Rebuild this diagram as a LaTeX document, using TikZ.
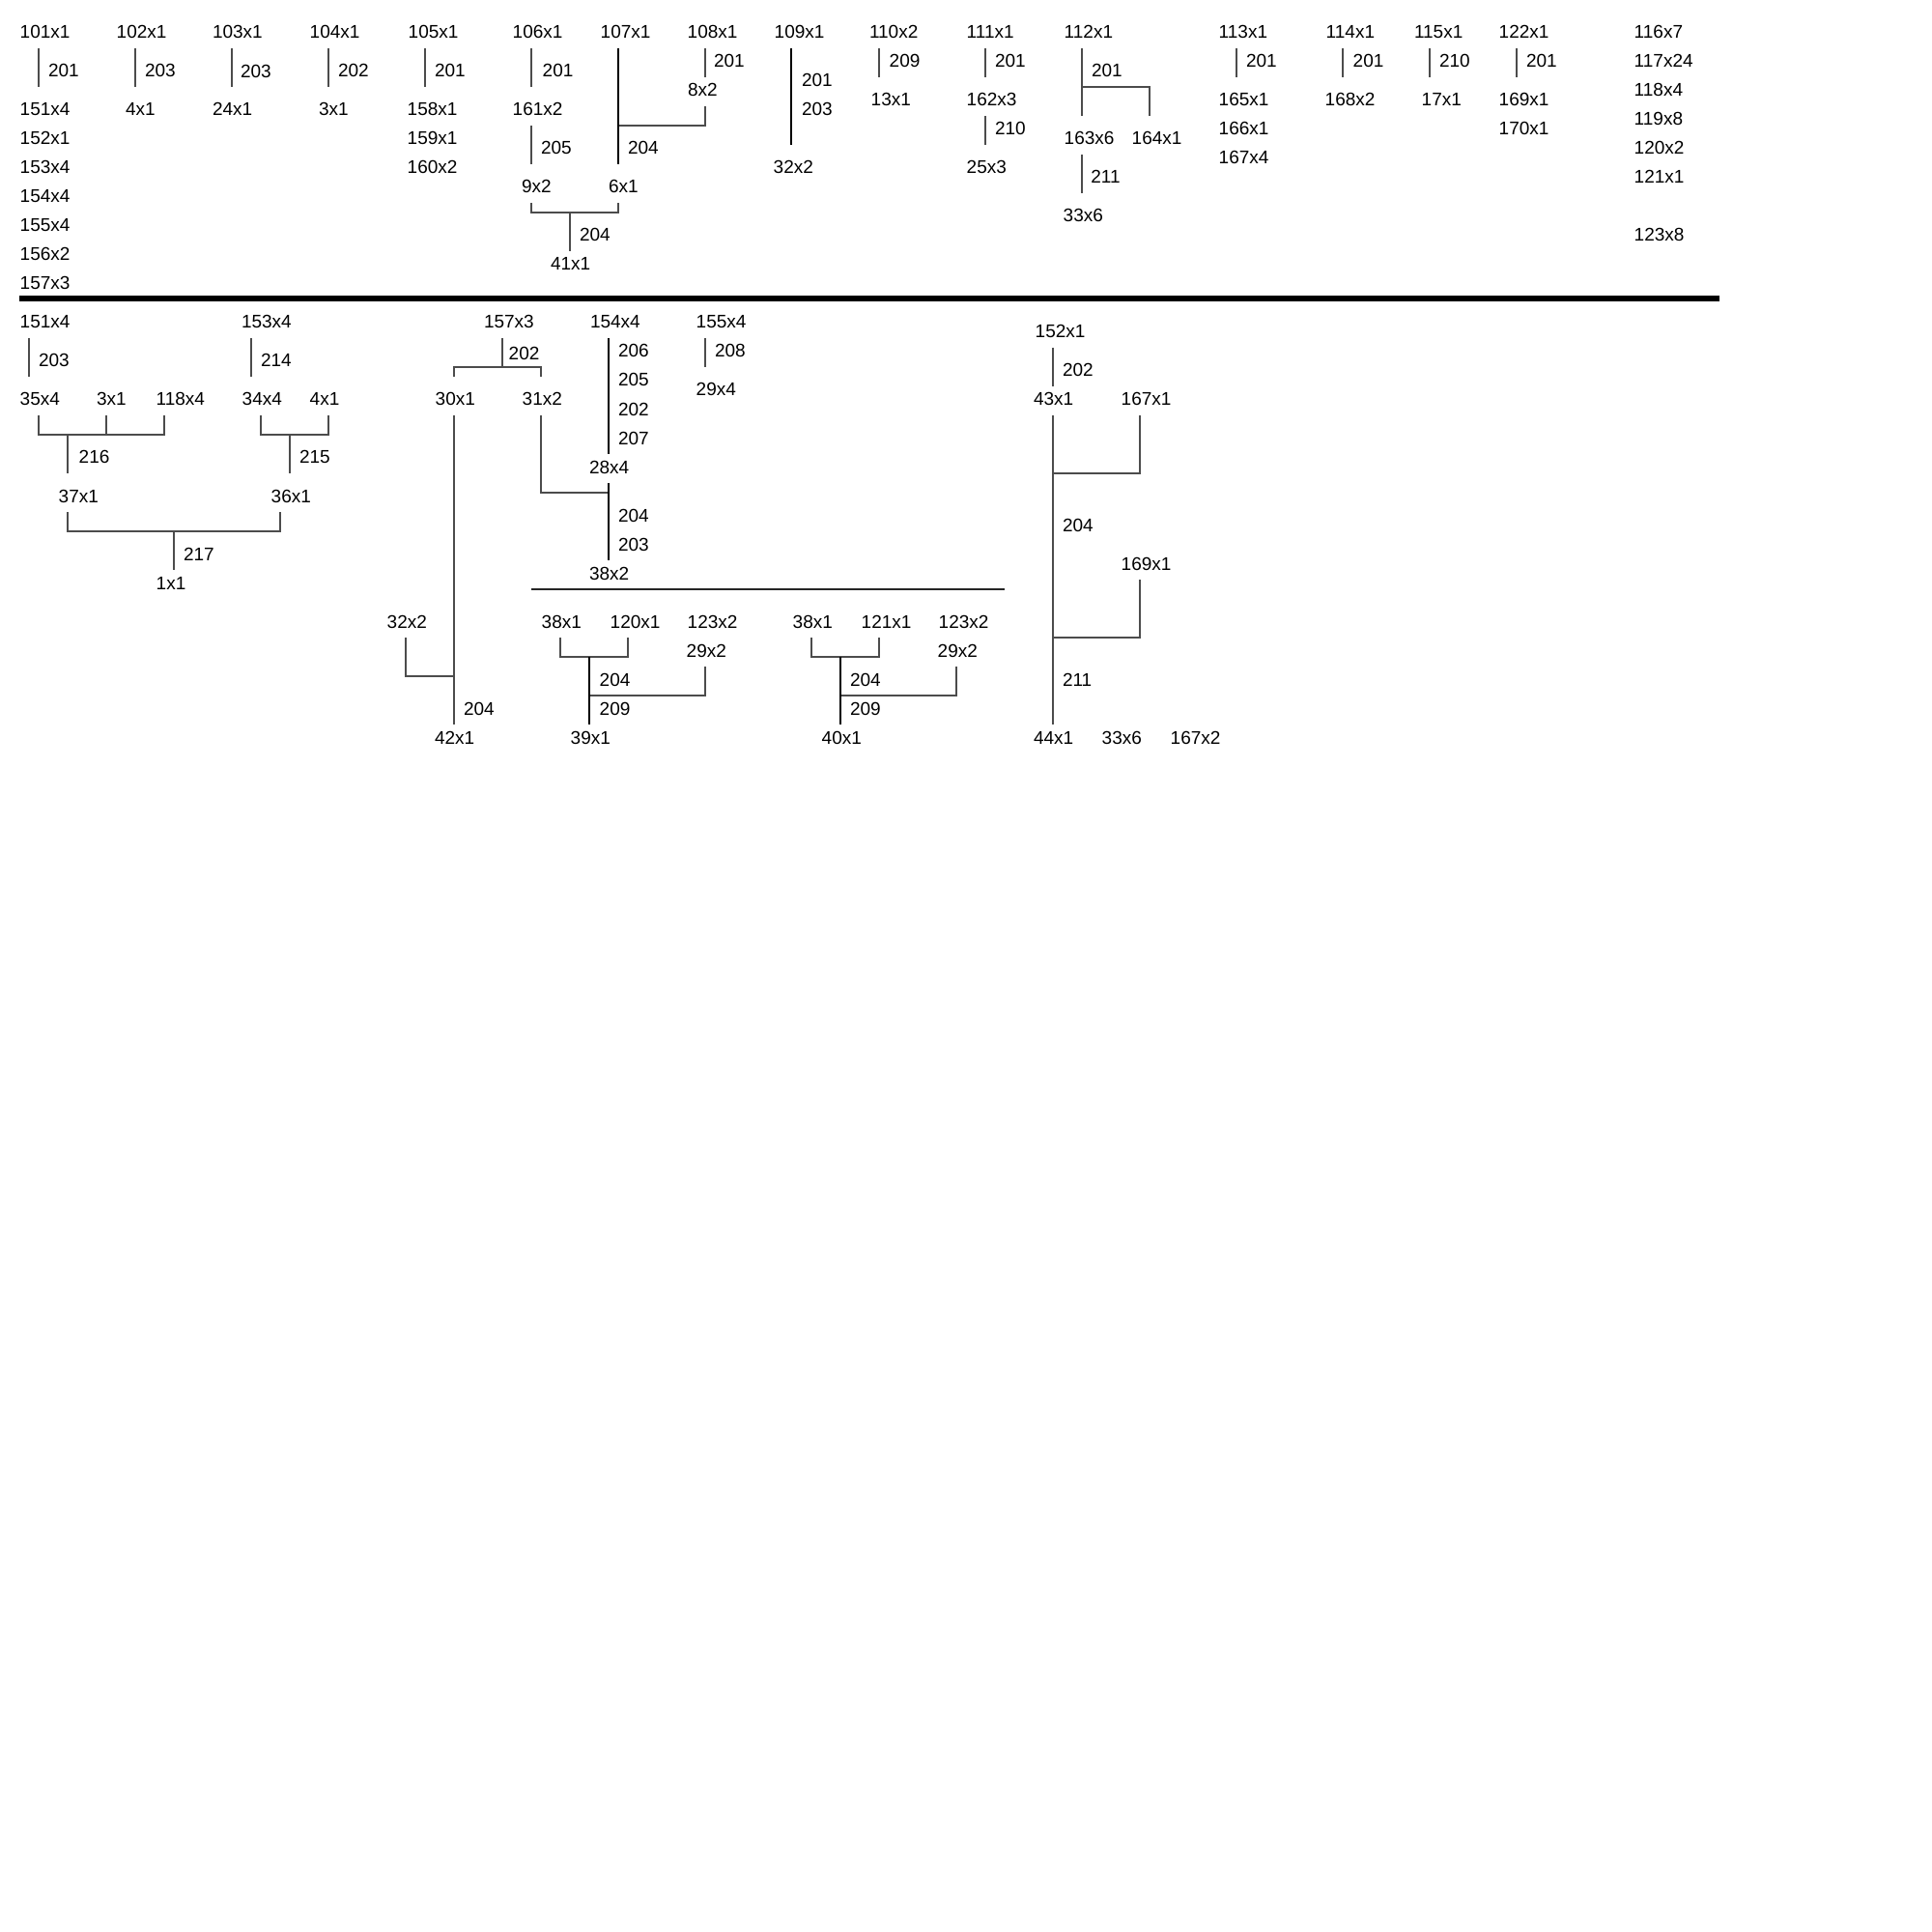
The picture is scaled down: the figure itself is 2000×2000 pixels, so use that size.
\documentclass[tikz,border=0pt]{standalone}
\usepackage{fontspec}
\setmainfont{Liberation Sans}
\begin{document}
\begin{tikzpicture}[x=0.5pt,y=-0.5pt,
  lab/.style={anchor=base west,inner sep=0pt,outer sep=0pt,font=\fontsize{9.5pt}{11pt}\selectfont},
  ln/.style={draw=black!70,line width=1pt},
  tk/.style={draw=black,line width=1.45pt},
  md/.style={draw=black,line width=1.1pt},
  divider/.style={draw=black,line width=3pt},
  sep/.style={draw=black!85,line width=1.3pt}]
\useasboundingbox[fill=white] (0,0) rectangle (2000,2000);
\newcommand\T[4]{\node[lab] (#1) at (#2,#3) {#4};}
% ---------- top section ----------
\T{a101}{20.7}{40}{101x1}\T{a101e}{50}{80}{201}
\T{a151}{20.7}{120}{151x4}\T{a152}{20.7}{150}{152x1}\T{a153}{20.7}{180}{153x4}
\T{a154}{20.7}{210}{154x4}\T{a155}{20.7}{240}{155x4}\T{a156}{20.7}{270}{156x2}\T{a157}{20.7}{300}{157x3}
\draw[ln] (40,50) -- (40,90);
\T{a102}{120.7}{40}{102x1}\T{a102e}{150}{80}{203}\T{a4}{130}{120}{4x1}
\draw[ln] (140,50) -- (140,90);
\T{a103}{220}{40}{103x1}\T{a103e}{249}{81}{203}\T{a24}{220}{120}{24x1}
\draw[ln] (240,50) -- (240,90);
\T{a104}{320.7}{40}{104x1}\T{a104e}{350}{80}{202}\T{a3}{330}{120}{3x1}
\draw[ln] (340,50) -- (340,90);
\T{a105}{422.7}{40}{105x1}\T{a105e}{450}{80}{201}
\T{a158}{421.7}{120}{158x1}\T{a159}{421.7}{150}{159x1}\T{a160}{421.7}{180}{160x2}
\draw[ln] (440,50) -- (440,90);
\T{a106}{530.7}{40}{106x1}\T{a106e}{561.7}{80}{201}\T{a161}{530.7}{120}{161x2}
\T{a161e}{560}{160}{205}\T{a9}{540}{200}{9x2}\T{a6}{630}{200}{6x1}
\T{a41e}{600}{250}{204}\T{a41}{570}{280}{41x1}
\draw[ln] (550,50) -- (550,90);
\draw[ln] (550,130) -- (550,170);
\draw[ln] (550,210) -- (550,220) -- (640,220) -- (640,210);
\draw[ln] (590,220) -- (590,260);
\T{a107}{621.7}{40}{107x1}\T{a107e}{650}{160}{204}
\draw[ln] (640,130) -- (730,130) -- (730,110);
\draw[tk] (640,50) -- (640,170);
\T{a108}{711.7}{40}{108x1}\T{a108e}{739}{70}{201}\T{a8}{712}{100}{8x2}
\draw[ln] (730,50) -- (730,80);
\T{a109}{801.7}{40}{109x1}\T{a109e}{830}{90}{201}\T{a109f}{830}{120}{203}\T{a32}{800.7}{180}{32x2}
\draw[tk] (819,50) -- (819,150);
\T{a110}{900}{40}{110x2}\T{a110e}{920.7}{70}{209}\T{a13}{901.7}{110}{13x1}
\draw[ln] (910,50) -- (910,80);
\T{a111}{1000.7}{40}{111x1}\T{a111e}{1030}{70}{201}\T{a162}{1000.7}{110}{162x3}
\T{a162e}{1030}{140}{210}\T{a25}{1000.7}{180}{25x3}
\draw[ln] (1020,50) -- (1020,80);
\draw[ln] (1020,120) -- (1020,150);
\T{a112}{1101.7}{40}{112x1}\T{a112e}{1130}{80}{201}
\T{a163}{1101.7}{150}{163x6}\T{a164}{1171.7}{150}{164x1}
\T{a163e}{1129.3}{190}{211}\T{a33}{1100.7}{230}{33x6}
\draw[ln] (1120,50) -- (1120,120);
\draw[ln] (1120,90) -- (1190,90) -- (1190,120);
\draw[ln] (1120,160) -- (1120,200);
\T{a113}{1261.7}{40}{113x1}\T{a113e}{1290}{70}{201}
\T{a165}{1261.7}{110}{165x1}\T{a166}{1261.7}{140}{166x1}\T{a167}{1261.7}{170}{167x4}
\draw[ln] (1280,50) -- (1280,80);
\T{a114}{1372.7}{40}{114x1}\T{a114e}{1400.7}{70}{201}\T{a168}{1371.7}{110}{168x2}
\draw[ln] (1390,50) -- (1390,80);
\T{a115}{1464}{40}{115x1}\T{a115e}{1490}{70}{210}\T{a17}{1471.7}{110}{17x1}
\draw[ln] (1480,50) -- (1480,80);
\T{a122}{1551.7}{40}{122x1}\T{a122e}{1580}{70}{201}
\T{a169}{1551.7}{110}{169x1}\T{a170}{1551.7}{140}{170x1}
\draw[ln] (1570,50) -- (1570,80);
\T{a116}{1691.7}{40}{116x7}\T{a117}{1691.7}{70}{117x24}\T{a118}{1691.7}{100}{118x4}
\T{a119}{1691.7}{130}{119x8}\T{a120}{1691.7}{160}{120x2}\T{a121}{1691.7}{190}{121x1}
\T{a123}{1691.7}{250}{123x8}
% divider
\coordinate (dl) at (20,309);\coordinate (dr) at (1780,309);
\draw[divider] (dl) -- (dr);
% ---------- bottom section ----------
\T{b151}{20.7}{340}{151x4}\T{b151e}{40}{380}{203}
\draw[ln] (30,350) -- (30,390);
\T{b35}{20.7}{420}{35x4}\T{b3}{100}{420}{3x1}\T{b118}{161.7}{420}{118x4}
\draw[ln] (40,430) -- (40,450) -- (170,450) -- (170,430);
\draw[ln] (110,430) -- (110,450);
\draw[ln] (70,450) -- (70,490);
\T{b37e}{81.7}{480}{216}\T{b37}{60.7}{520}{37x1}
\T{b153}{250}{340}{153x4}\T{b153e}{270}{380}{214}
\draw[ln] (260,350) -- (260,390);
\T{b34}{250.7}{420}{34x4}\T{b4}{320.7}{420}{4x1}
\draw[ln] (270,430) -- (270,450) -- (340,450) -- (340,430);
\draw[ln] (300,450) -- (300,490);
\T{b36e}{310}{480}{215}\T{b36}{280.7}{520}{36x1}
\draw[ln] (70,530) -- (70,550) -- (290,550) -- (290,530);
\draw[ln] (180,550) -- (180,590);
\T{b1e}{190}{580}{217}\T{b1}{161.7}{610}{1x1}
\T{b157}{501}{340}{157x3}\T{b157e}{526.7}{373}{202}
\draw[ln] (520,350) -- (520,380);
\draw[ln] (470,390) -- (470,380) -- (560,380) -- (560,390);
\T{b30}{450.7}{420}{30x1}\T{b31}{540.7}{420}{31x2}
\draw[ln] (470,430) -- (470,750);
\T{b32}{400.7}{650}{32x2}
\draw[ln] (420,660) -- (420,700) -- (470,700);
\T{b42e}{480}{740}{204}\T{b42}{450}{770}{42x1}
\draw[ln] (560,430) -- (560,510) -- (630,510);
\T{b154}{611}{340}{154x4}
\T{b154e}{640}{370}{206}\T{b154f}{640}{400}{205}\T{b154g}{640}{430}{202}\T{b154h}{640}{460}{207}
\draw[tk] (630,350) -- (630,470);
\T{b28}{610}{490}{28x4}
\draw[md] (630,500) -- (630,580);
\T{b28e}{640}{540}{204}\T{b28f}{640}{570}{203}\T{b38}{610}{600}{38x2}
\T{b155}{720.7}{340}{155x4}\T{b155e}{740}{370}{208}\T{b29}{720.7}{410}{29x4}
\draw[ln] (730,350) -- (730,380);
\coordinate (sl) at (550,610);\coordinate (sr) at (1040,610);
\draw[sep] (sl) -- (sr);
% left sub-tree
\T{c38}{560.7}{650}{38x1}\T{c120}{631.7}{650}{120x1}\T{c123}{711.7}{650}{123x2}\T{c29}{710.7}{680}{29x2}
\draw[ln] (580,660) -- (580,680) -- (650,680) -- (650,660);
\draw[ln] (610,720) -- (730,720) -- (730,690);
\draw[md] (610,680) -- (610,750);
\T{c39e}{620.7}{710}{204}\T{c39f}{620.7}{740}{209}\T{c39}{590.7}{770}{39x1}
% right sub-tree
\T{d38}{820.7}{650}{38x1}\T{d121}{891.7}{650}{121x1}\T{d123}{971.7}{650}{123x2}\T{d29}{970.7}{680}{29x2}
\draw[ln] (840,660) -- (840,680) -- (910,680) -- (910,660);
\draw[ln] (870,720) -- (990,720) -- (990,690);
\draw[md] (870,680) -- (870,750);
\T{d40e}{880}{710}{204}\T{d40f}{880}{740}{209}\T{d40}{850.7}{770}{40x1}
% 152 tree
\T{e152}{1071.7}{350}{152x1}\T{e152e}{1100}{390}{202}
\draw[ln] (1090,360) -- (1090,400);
\T{e43}{1070}{420}{43x1}\T{e167}{1160.7}{420}{167x1}
\draw[ln] (1090,430) -- (1090,750);
\draw[ln] (1180,430) -- (1180,490) -- (1090,490);
\T{e204}{1100}{550}{204}
\T{e169}{1160.7}{590}{169x1}
\draw[ln] (1180,600) -- (1180,660) -- (1090,660);
\T{e211}{1100}{710}{211}
\T{e44}{1070}{770}{44x1}\T{e33}{1140.7}{770}{33x6}\T{e167b}{1211.7}{770}{167x2}
\end{tikzpicture}
\end{document}
